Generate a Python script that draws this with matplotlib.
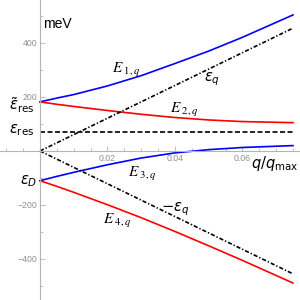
import numpy as np
import matplotlib
matplotlib.use("Agg")
import matplotlib.pyplot as plt
from matplotlib.ticker import MultipleLocator, FixedLocator

plt.rcParams['font.family'] = ['Liberation Sans', 'DejaVu Sans']

# values (meV vs q/q_max)
q = [0, 0.005, 0.01, 0.02, 0.03, 0.04, 0.05, 0.06, 0.075]
E1 = [182, 196, 209, 241, 279, 324, 370, 421, 504]
E2 = [182, 173, 165, 150, 136, 124, 115, 109, 105]
E3 = [-110, -94, -79, -51, -26, -7, 5, 13, 20]
E4 = [-110, -131, -153, -199, -247, -298, -351, -405, -489]

q_line = [0, 0.075]
eps_q = [0, 455]
eps_res = 70

xt_major = [0.02, 0.04, 0.06]
yt_major = [-400, -200, 200, 400]

# pixel -> data helpers (reference: q=0 at x=40, 3373 px per unit; 0 meV at y=151, 0.27 px/meV)
def px(x):
    return (x - 40) / 3373.0
def py(y):
    return (151 - y) / 0.27

fig = plt.figure(figsize=(3, 3), dpi=100)
ax = fig.add_axes([0, 0, 1, 1])
ax.set_xlim(px(0), px(300))
ax.set_ylim(py(300), py(0))

gray = '#b4b4b4'
for s in ['top', 'right']:
    ax.spines[s].set_visible(False)
ax.spines['left'].set_position(('data', 0))
ax.spines['bottom'].set_position(('data', 0))
ax.spines['left'].set_color(gray)
ax.spines['bottom'].set_color(gray)
ax.spines['left'].set_linewidth(0.8)
ax.spines['bottom'].set_linewidth(0.8)

ax.xaxis.set_major_locator(FixedLocator(xt_major))
ax.xaxis.set_minor_locator(MultipleLocator(0.005))
ax.yaxis.set_major_locator(FixedLocator(yt_major))
ax.yaxis.set_minor_locator(MultipleLocator(100))
ax.set_xticklabels([f"{v:.2f}" for v in xt_major])
ax.set_yticklabels([f"{v}".replace('-', '\u2212') for v in yt_major])
ax.tick_params(which='both', direction='in', color=gray, width=0.6)
ax.tick_params(which='major', length=3.5, labelsize=6.3, labelcolor='#909090', pad=2)
ax.tick_params(which='minor', length=2)

lw = 1.2
ax.plot(q, E1, color='blue', lw=lw)
ax.plot(q, E2, color='red', lw=lw)
ax.plot(q, E3, color='blue', lw=lw)
ax.plot(q, E4, color='red', lw=lw)
ax.plot(q_line, eps_q, color='black', lw=lw, dashes=(2.5, 1.2, 0.8, 1.2))
ax.plot(q_line, [-v for v in eps_q], color='black', lw=lw, dashes=(2.5, 1.2, 0.8, 1.2))
ax.plot(q_line, [eps_res, eps_res], color='black', lw=lw, dashes=(3, 1.5))

fs = 10.5
ax.text(px(43), py(28), 'meV', fontsize=10, ha='left', va='baseline')
ax.text(px(34), py(110), r'$\tilde{\epsilon}_{\rm res}$', fontsize=fs, ha='right', va='baseline')
ax.text(px(34), py(133), r'$\epsilon_{\rm res}$', fontsize=fs, ha='right', va='baseline')
ax.text(px(37), py(184), r'$\epsilon_{D}$', fontsize=fs, ha='right', va='baseline')
ax.text(px(298), py(168), r'$q/q_{\rm max}$', fontsize=fs, ha='right', va='baseline')
ax.text(px(204), py(81), r'$\epsilon_{q}$', fontsize=fs, ha='left', va='baseline')
ax.text(px(161), py(211), r'$-\epsilon_{q}$', fontsize=fs, ha='left', va='baseline')

efs = 11
ax.text(px(112), py(73), r'$E_{\ 1,q}$', fontsize=efs, math_fontfamily='stix', ha='left', va='baseline')
ax.text(px(170), py(113), r'$E_{\ 2,q}$', fontsize=efs, math_fontfamily='stix', ha='left', va='baseline')
ax.text(px(128), py(177), r'$E_{\ 3,q}$', fontsize=efs, math_fontfamily='stix', ha='left', va='baseline')
ax.text(px(103), py(224), r'$E_{\ 4,q}$', fontsize=efs, math_fontfamily='stix', ha='left', va='baseline')

fig.savefig('out.png', dpi=100)
